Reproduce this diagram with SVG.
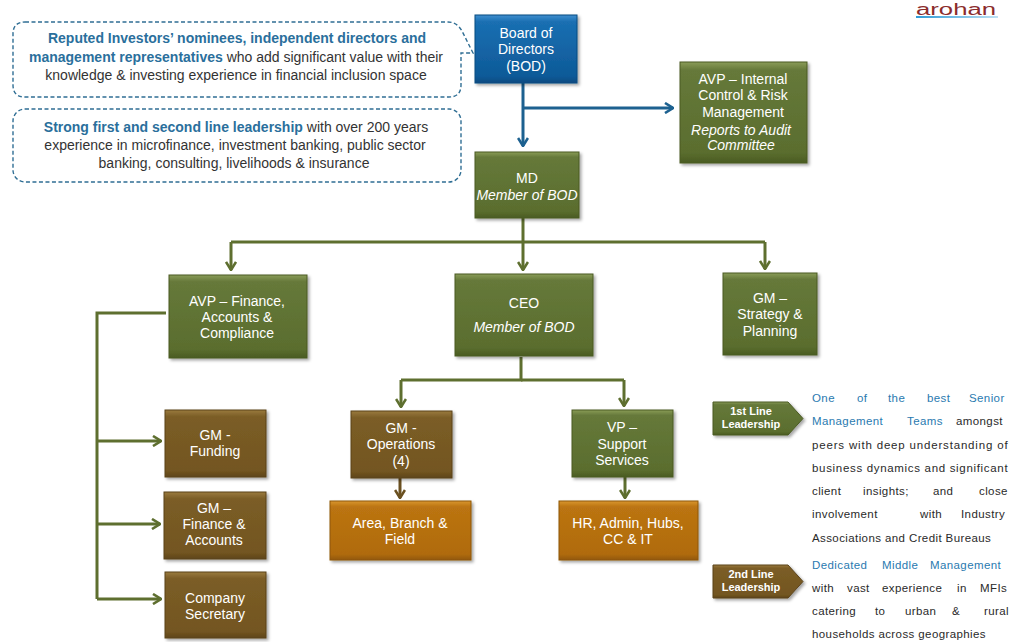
<svg xmlns="http://www.w3.org/2000/svg" width="1011" height="642" viewBox="0 0 1011 642">
<defs>
<linearGradient id="gGreen" x1="0" y1="0" x2="0" y2="1">
<stop offset="0" stop-color="#8a9c58"/><stop offset="0.08" stop-color="#66793a"/><stop offset="0.9" stop-color="#5a6d2e"/><stop offset="1" stop-color="#4a5b22"/>
</linearGradient>
<linearGradient id="gBrown" x1="0" y1="0" x2="0" y2="1">
<stop offset="0" stop-color="#9a7a3e"/><stop offset="0.1" stop-color="#7b5d26"/><stop offset="0.9" stop-color="#735621"/><stop offset="1" stop-color="#5e451a"/>
</linearGradient>
<linearGradient id="gOrange" x1="0" y1="0" x2="0" y2="1">
<stop offset="0" stop-color="#d9962e"/><stop offset="0.1" stop-color="#bb7412"/><stop offset="0.9" stop-color="#b06b0c"/><stop offset="1" stop-color="#92580a"/>
</linearGradient>
<linearGradient id="gBlue" x1="0" y1="0" x2="0" y2="1">
<stop offset="0" stop-color="#3f8fcf"/><stop offset="0.1" stop-color="#1a6fb2"/><stop offset="0.9" stop-color="#0e5a98"/><stop offset="1" stop-color="#0b4a80"/>
</linearGradient>
<linearGradient id="gLogo" x1="0" y1="0" x2="1" y2="0">
<stop offset="0" stop-color="#2f9bd6"/><stop offset="1" stop-color="#bfe2f4"/>
</linearGradient>
<filter id="sh" x="-10%" y="-10%" width="130%" height="130%">
<feDropShadow dx="2" dy="2" stdDeviation="1.5" flood-color="#000" flood-opacity="0.35"/>
</filter>
<marker id="aG" viewBox="0 0 10 12" refX="9" refY="6" markerWidth="10" markerHeight="12" markerUnits="userSpaceOnUse" orient="auto">
<path d="M1,1 L9,6 L1,11" fill="none" stroke="#5e6f2f" stroke-width="2.6"/>
</marker>
<marker id="aB" viewBox="0 0 10 12" refX="9" refY="6" markerWidth="10" markerHeight="12" markerUnits="userSpaceOnUse" orient="auto">
<path d="M1,1 L9,6 L1,11" fill="none" stroke="#1d6190" stroke-width="2.6"/>
</marker>
<marker id="aR" viewBox="0 0 10 12" refX="9" refY="6" markerWidth="10" markerHeight="12" markerUnits="userSpaceOnUse" orient="auto">
<path d="M1,1 L9,6 L1,11" fill="none" stroke="#6a5020" stroke-width="2.6"/>
</marker>
</defs>
<style>
.box{stroke-width:1}
.g{fill:url(#gGreen);stroke:#4a5a22}
.b{fill:url(#gBrown);stroke:#5a431a}
.o{fill:url(#gOrange);stroke:#8e560a}
.bl{fill:url(#gBlue);stroke:#0b4a80}
.t{font-family:"Liberation Sans",Arial,sans-serif;font-size:14px;fill:#fff;text-anchor:middle}
.it{font-style:italic}
.cl{font-family:"Liberation Sans",Arial,sans-serif;font-size:14px;fill:#333;text-anchor:middle}
.cb{font-weight:bold;fill:#2a6f9c}
.dash{fill:#fff;stroke:#2f6e94;stroke-width:1.4;stroke-dasharray:4 2.5}
.cg{fill:none;stroke:#5e6f2f;stroke-width:3}
.cbl{fill:none;stroke:#1d6190;stroke-width:3}
.cr{fill:none;stroke:#6a5020;stroke-width:3}
.p{font-family:"Liberation Sans",Arial,sans-serif;font-size:11.5px;letter-spacing:0.4px;fill:#2a2a2a}
.pb{fill:#2a7ab0}
.tag{font-family:"Liberation Sans",Arial,sans-serif;font-size:11px;font-weight:bold;fill:#fff;text-anchor:middle}
</style>

<g id="logo">
<text x="916" y="15" font-family="'Liberation Sans',Arial,sans-serif" font-size="16" fill="#8b2c2c" textLength="80" lengthAdjust="spacingAndGlyphs">arohan</text>
<rect x="916" y="16" width="82" height="2" fill="url(#gLogo)"/>
</g>

<g id="callout1">
<path class="dash" d="M25,22 H448 Q457,22 462,31 L473,53 H461 V85 Q461,97 449,97 H25 Q13,97 13,85 V34 Q13,22 25,22 Z"/>
<text class="cl" x="237" y="43"><tspan class="cb">Reputed Investors’ nominees, independent  directors and</tspan></text>
<text class="cl" x="236" y="62"><tspan class="cb">management representatives</tspan> who add significant value with their</text>
<text class="cl" x="236" y="80">knowledge &amp; investing experience in financial inclusion space</text>
</g>
<g id="callout2">
<rect class="dash" x="13" y="109" width="448" height="73" rx="12"/>
<text class="cl" x="236" y="132"><tspan class="cb">Strong first and second line leadership</tspan> with over 200 years</text>
<text class="cl" x="235" y="150">experience in microfinance, investment banking, public sector</text>
<text class="cl" x="234" y="168">banking, consulting, livelihoods &amp; insurance</text>
</g>

<g id="connectors">
<path class="cbl" d="M523,83 V146" marker-end="url(#aB)"/>
<path class="cbl" d="M523,108 H673" marker-end="url(#aB)"/>
<path class="cg" d="M523,218 V242"/>
<path class="cg" d="M231,242 H765"/>
<path class="cg" d="M231,242 V270" marker-end="url(#aG)"/>
<path class="cg" d="M523,242 V270" marker-end="url(#aG)"/>
<path class="cg" d="M765,242 V269" marker-end="url(#aG)"/>
<path class="cg" d="M521,357 V380 H401"/>
<path class="cg" d="M521,380 H624"/>
<path class="cg" d="M401,380 V407" marker-end="url(#aG)"/>
<path class="cg" d="M624,380 V406" marker-end="url(#aG)"/>
<path class="cg" d="M166,313 H97 V599"/>
<path class="cg" d="M97,441 H161" marker-end="url(#aG)"/>
<path class="cg" d="M97,524 H160" marker-end="url(#aG)"/>
<path class="cg" d="M97,599 H161" marker-end="url(#aG)"/>
<path class="cr" d="M400,478 V498" marker-end="url(#aR)"/>
<path class="cg" d="M625,477 V498" marker-end="url(#aG)"/>
</g>

<g id="bod">
<rect class="box bl" x="475" y="15" width="102" height="68" filter="url(#sh)"/>
<text class="t" x="526" y="38">Board of</text>
<text class="t" x="526" y="54">Directors</text>
<text class="t" x="526" y="71">(BOD)</text>
</g>
<g id="avp-internal">
<rect class="box g" x="680" y="62" width="127" height="101" filter="url(#sh)"/>
<text class="t" x="743" y="84">AVP – Internal</text>
<text class="t" x="743" y="100">Control &amp; Risk</text>
<text class="t" x="743" y="117">Management</text>
<text class="t it" x="741" y="135" font-size="10">Reports to  Audit</text>
<text class="t it" x="741" y="150" font-size="10">Committee</text>
</g>
<g id="md">
<rect class="box g" x="475" y="152" width="104" height="66" filter="url(#sh)"/>
<text class="t" x="527" y="183">MD</text>
<text class="t it" x="527" y="200" font-size="11">Member  of BOD</text>
</g>
<g id="avp-finance">
<rect class="box g" x="169" y="275" width="138" height="83" filter="url(#sh)"/>
<text class="t" x="237" y="306">AVP – Finance,</text>
<text class="t" x="237" y="322">Accounts &amp;</text>
<text class="t" x="237" y="338">Compliance</text>
</g>
<g id="ceo">
<rect class="box g" x="455" y="274" width="138" height="82" filter="url(#sh)"/>
<text class="t" x="524" y="308" font-size="15">CEO</text>
<text class="t it" x="524" y="332" font-size="15">Member of BOD</text>
</g>
<g id="gm-strategy">
<rect class="box g" x="723" y="273" width="94" height="82" filter="url(#sh)"/>
<text class="t" x="770" y="303">GM –</text>
<text class="t" x="770" y="319">Strategy &amp;</text>
<text class="t" x="770" y="336">Planning</text>
</g>
<g id="gm-funding">
<rect class="box b" x="165" y="410" width="101" height="67" filter="url(#sh)"/>
<text class="t" x="215" y="440">GM -</text>
<text class="t" x="215" y="456">Funding</text>
</g>
<g id="gm-finance-accounts">
<rect class="box b" x="164" y="492" width="102" height="67" filter="url(#sh)"/>
<text class="t" x="214" y="513">GM –</text>
<text class="t" x="214" y="529">Finance &amp;</text>
<text class="t" x="214" y="545">Accounts</text>
</g>
<g id="company-secretary">
<rect class="box b" x="165" y="572" width="101" height="66" filter="url(#sh)"/>
<text class="t" x="215" y="603">Company</text>
<text class="t" x="215" y="619">Secretary</text>
</g>
<g id="gm-operations">
<rect class="box b" x="351" y="411" width="101" height="67" filter="url(#sh)"/>
<text class="t" x="401" y="433">GM -</text>
<text class="t" x="401" y="449">Operations</text>
<text class="t" x="401" y="466">(4)</text>
</g>
<g id="vp-support">
<rect class="box g" x="572" y="410" width="101" height="67" filter="url(#sh)"/>
<text class="t" x="622" y="432">VP –</text>
<text class="t" x="622" y="449">Support</text>
<text class="t" x="622" y="465">Services</text>
</g>
<g id="area-branch">
<rect class="box o" x="330" y="501" width="141" height="59" filter="url(#sh)"/>
<text class="t" x="400" y="528">Area, Branch &amp;</text>
<text class="t" x="400" y="544">Field</text>
</g>
<g id="hr-admin">
<rect class="box o" x="559" y="501" width="139" height="59" filter="url(#sh)"/>
<text class="t" x="628" y="528">HR, Admin, Hubs,</text>
<text class="t" x="628" y="544">CC &amp; IT</text>
</g>

<g id="tag1">
<path class="g" d="M713,402 H788 L803,418.5 L788,435 H713 Z" filter="url(#sh)"/>
<text class="tag" x="751" y="415">1st Line</text>
<text class="tag" x="751" y="428">Leadership</text>
</g>
<g id="tag2">
<path class="b" d="M713,565 H788 L803,581.5 L788,598 H713 Z" filter="url(#sh)"/>
<text class="tag" x="751" y="578">2nd Line</text>
<text class="tag" x="751" y="591">Leadership</text>
</g>

<g id="text1">
<text class="p pb" y="402"><tspan x="812">One</tspan><tspan x="857">of</tspan><tspan x="888">the</tspan><tspan x="927">best</tspan><tspan x="969">Senior</tspan></text>
<text class="p" y="425"><tspan x="812" class="pb">Management</tspan><tspan x="907" class="pb">Teams</tspan><tspan x="956">amongst</tspan></text>
<text class="p" y="449" x="812" textLength="196" lengthAdjust="spacing">peers with deep understanding of</text>
<text class="p" y="472" x="812" textLength="196" lengthAdjust="spacing">business dynamics and significant</text>
<text class="p" y="495"><tspan x="812">client</tspan><tspan x="863">insights;</tspan><tspan x="933">and</tspan><tspan x="979">close</tspan></text>
<text class="p" y="518"><tspan x="812">involvement</tspan><tspan x="920">with</tspan><tspan x="961">Industry</tspan></text>
<text class="p" y="542" x="812">Associations and Credit Bureaus</text>
<text class="p pb" y="569"><tspan x="812">Dedicated</tspan><tspan x="882">Middle</tspan><tspan x="930">Management</tspan></text>
<text class="p" y="592"><tspan x="812">with</tspan><tspan x="847">vast</tspan><tspan x="882">experience</tspan><tspan x="957">in</tspan><tspan x="980">MFIs</tspan></text>
<text class="p" y="615"><tspan x="812">catering</tspan><tspan x="875">to</tspan><tspan x="905">urban</tspan><tspan x="952">&amp;</tspan><tspan x="984">rural</tspan></text>
<text class="p" y="638" x="812">households  across geographies</text>
</g>
</svg>
